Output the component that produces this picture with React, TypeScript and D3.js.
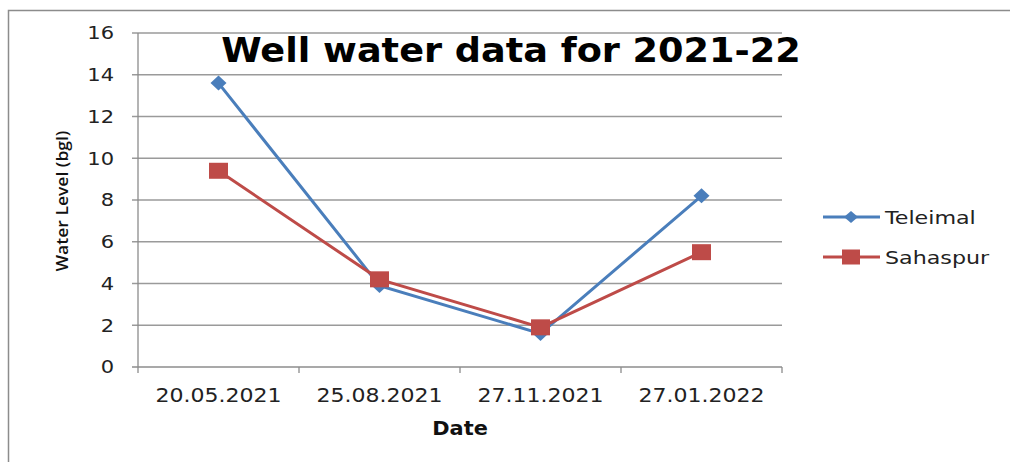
import React from "react";
import * as d3 from "d3";

const categories = ["20.05.2021", "25.08.2021", "27.11.2021", "27.01.2022"];
const teleimal = [13.6, 3.9, 1.6, 8.2];
const sahaspur = [9.4, 4.2, 1.9, 5.5];
const yTicks = [0, 2, 4, 6, 8, 10, 12, 14, 16];
const seriesNames = ["Teleimal", "Sahaspur"];

const W = 1010, H = 462;
const left = 138, right = 782, top = 33, bottom = 367;
const BLUE = "#4A7EBB", RED = "#BE4B48";

function T(props: { x: number; y: number; sx?: number; rot?: number; anchor?: string; size: number; weight?: string; family?: string; fill?: string; children: React.ReactNode; dy?: string }) {
  const { x, y, sx = 1, rot = 0, anchor = "start", size, weight = "normal", family = "DejaVu Sans", fill = "#222", children, dy } = props;
  return (
    <text transform={`translate(${x},${y}) rotate(${rot}) scale(${sx},1)`} textAnchor={anchor} fontSize={size} fontWeight={weight} fontFamily={family} fill={fill} dy={dy}>
      {children}
    </text>
  );
}

export default function App() {
  const x = d3.scaleBand().domain(categories).range([left, right]).padding(0);
  const y = d3.scaleLinear().domain([0, 16]).range([bottom, top]);
  const cx = (c: string) => (x(c) as number) + x.bandwidth() / 2;
  const line = d3.line<number>().x((_, i) => cx(categories[i])).y(d => y(d));
  const bounds = [...categories.map(c => x(c) as number), right];
  const diamond = (px: number, py: number, rx: number, ry: number) => `M${px},${py - ry}L${px + rx},${py}L${px},${py + ry}L${px - rx},${py}Z`;

  return (
    <svg width={W} height={H} style={{ position: "absolute", left: 0, top: 0, background: "#fff" }}>
      <rect x={8.5} y={10.5} width={1010} height={470} fill="#fff" stroke="#8c8c8c" strokeWidth={1.5} />
      {yTicks.map(t => (
        <g key={t}>
          <line x1={left - 6} x2={right} y1={y(t)} y2={y(t)} stroke={t === 0 ? "#8c8c8c" : "#9a9a9a"} strokeWidth={1.3} />
          <T x={114} y={y(t)} dy="0.36em" anchor="end" size={17.5} sx={1.2}>{t}</T>
        </g>
      ))}
      <line x1={left} x2={left} y1={top} y2={bottom} stroke="#8c8c8c" strokeWidth={1.3} />
      {bounds.map((b, i) => (
        <line key={i} x1={b} x2={b} y1={bottom} y2={bottom + 6} stroke="#8c8c8c" strokeWidth={1.3} />
      ))}
      {categories.map(c => (
        <T key={c} x={cx(c)} y={402} anchor="middle" size={19} sx={1.16}>{c}</T>
      ))}
      <T x={460} y={435} anchor="middle" size={19} sx={1.1} weight="bold" fill="#111">Date</T>
      <T x={68} y={201} rot={-90} anchor="middle" size={17} sx={1.03} weight="600" family="Open Sans" fill="#111">Water Level (bgl)</T>
      <T x={511} y={62} anchor="middle" size={33} sx={1.11} weight="bold" fill="#000">Well water data for 2021-22</T>

      <path d={line(teleimal) || ""} fill="none" stroke={BLUE} strokeWidth={3} />
      <path d={line(sahaspur) || ""} fill="none" stroke={RED} strokeWidth={3} />
      {teleimal.map((v, i) => (
        <path key={i} d={diamond(cx(categories[i]), y(v), 8, 7.5)} fill={BLUE} />
      ))}
      {sahaspur.map((v, i) => (
        <rect key={i} x={cx(categories[i]) - 9.5} y={y(v) - 8} width={19} height={16} fill={RED} />
      ))}

      {seriesNames.map((n, i) => {
        const ly = 217 + i * 40;
        const col = i === 0 ? BLUE : RED;
        return (
          <g key={n}>
            <line x1={823} x2={880} y1={ly} y2={ly} stroke={col} strokeWidth={3} />
            {i === 0 ? <path d={diamond(851, ly, 7, 6)} fill={col} /> : <rect x={842} y={ly - 7.5} width={18} height={15} fill={col} />}
            <T x={885} y={ly} dy="0.36em" size={18.5} sx={1.2}>{n}</T>
          </g>
        );
      })}
    </svg>
  );
}
